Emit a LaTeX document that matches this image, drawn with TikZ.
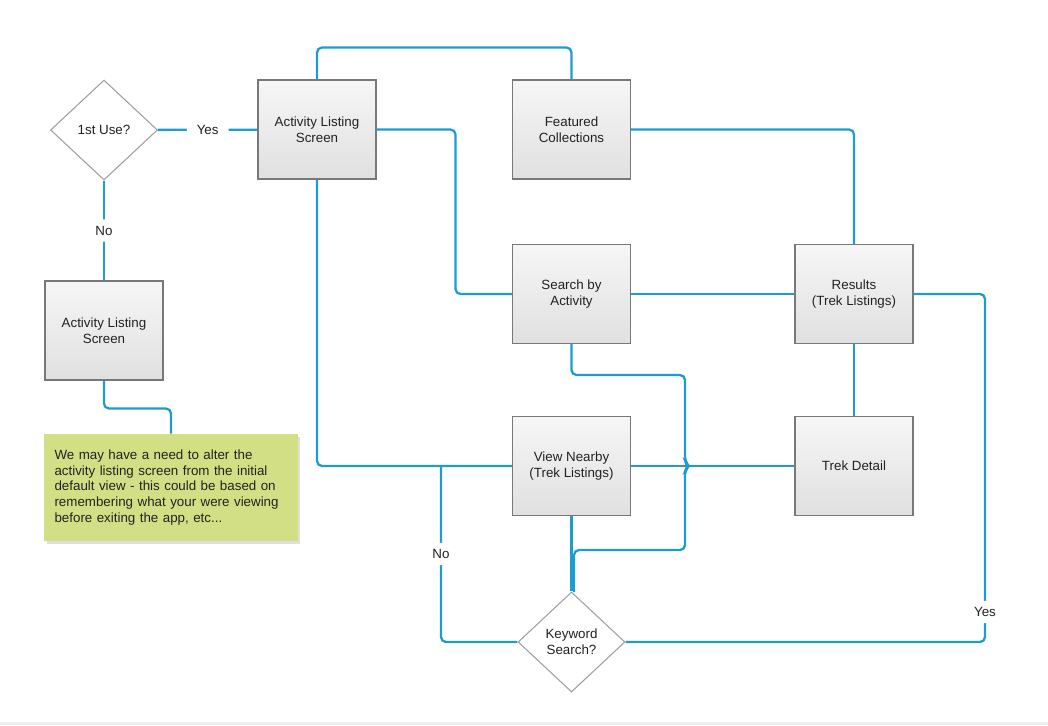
\documentclass[tikz,border=0pt]{standalone}
\usepackage{fontspec}
\setmainfont{Liberation Sans}
\usetikzlibrary{shapes.geometric,shadows}

\definecolor{flowblue}{RGB}{28,156,208}
\definecolor{boxedge}{RGB}{120,120,120}
\definecolor{boxtop}{RGB}{246,246,246}
\definecolor{boxbottom}{RGB}{224,224,224}
\definecolor{notegreen}{RGB}{211,223,132}
\definecolor{textgray}{RGB}{34,34,34}

\begin{document}
\begin{tikzpicture}[x=0.02cm,y=-0.02cm,
	font=\fontsize{7.6pt}{8.9pt}\selectfont, text=textgray,
	screen/.style={shape=rectangle,draw=boxedge,line width=0.6pt,top color=boxtop,bottom color=boxbottom,minimum width=2.36cm,minimum height=1.98cm,align=center},
	choice/.style={shape=diamond,draw=gray!75,line width=0.6pt,fill=white,minimum width=2.14cm,minimum height=2cm,inner sep=0pt,align=center},
	memo/.style={shape=rectangle,fill=notegreen,drop shadow={opacity=0.25,shadow xshift=0.05cm,shadow yshift=-0.05cm},text width=4.66cm,inner xsep=0.21cm,minimum height=2.14cm,align=left},
	link/.style={draw=flowblue,line width=1.3pt,rounded corners=0.1cm},
	answer/.style={fill=white,inner xsep=0.2cm,inner ysep=0.13cm}]

	\useasboundingbox (0,0) rectangle (1048,725);
	\fill[gray!12] (0,722) rectangle (1048,725);

	\node[choice] (first) at (104, 130)     {1st Use?};
	\node[screen] (list) at (317, 129.5)     {Activity Listing\\Screen};
	\node[screen] (feat) at (571.5, 129.5)     {Featured\\Collections};
	\node[screen] (listb) at (104, 330.5)     {Activity Listing\\Screen};
	\node[screen] (search) at (571.5, 294)     {Search by\\Activity};
	\node[screen] (results) at (854, 294)     {Results\\(Trek Listings)};
	\node[screen] (nearby) at (571.5, 466)     {View Nearby\\(Trek Listings)};
	\node[screen] (detail) at (854, 466)     {Trek Detail};
	\node[choice] (keyword) at (571.5, 642)     {Keyword\\Search?};
	\node[memo] (note) at (171, 487.5)     {We may have a need to alter the\\activity listing screen from the initial\\default view - this could be based on\\remembering what your were viewing\\before exiting the app, etc...};

	\coordinate (nojoin) at (441, 466);
	\coordinate (yesjoin) at (985, 294);

	\path[link] (first) -- node[answer]{Yes} (list);
	\path[link] (first) -- node[answer]{No} (listb);
	\path[link] (listb.south) -- ++(0, 28) -| (note.north);

	\path[link] (list.north) -- ++(0, -32) -| (feat.north);
	\path[link] (list.east) -- ++(79, 0) |- (search.west);
	\path[link] (list.south) |- (nearby.west);

	\path[link] (feat.east) -| (results.north);
	\path[link] (search.east) -- (results.west);
	\path[link] (results.south) -- (detail.north);
	\path[link] (nearby.east) -- (detail.west);

	\path[link] (search.south) -- ++(0, 31) -| (685, 461.5) -- (689, 466) -- (685, 470.5) -- (685, 550) -| (574, 592);
	\path[link] (nearby.south) -- (keyword.north);

	\path[link] (keyword.west) -| node[answer, pos=0.75]{No} (nojoin);
	\path[link] (keyword.east) -| node[answer, pos=0.543]{Yes} (yesjoin) -- (results.east);

\end{tikzpicture}
\end{document}
